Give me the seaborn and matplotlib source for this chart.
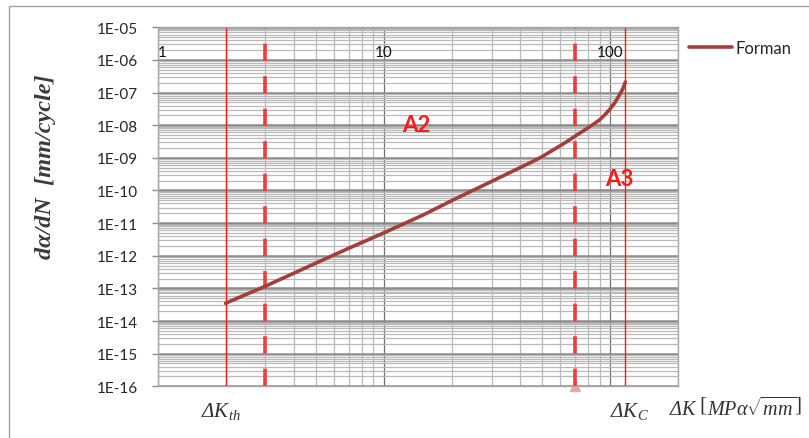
import matplotlib
matplotlib.use("Agg")
import matplotlib.pyplot as plt
import numpy as np
import seaborn as sns
from matplotlib.ticker import LogLocator, NullFormatter
from matplotlib.patches import Rectangle

# Forman curve, values
delta_k = [2, 3, 5, 7, 10, 15, 20, 30, 40, 45, 50, 55, 60, 65, 70, 75, 80, 85, 90,
           95, 100, 105, 110, 113, 115, 117]
dadn = [3.5e-14, 1.17e-13, 5.9e-13, 1.69e-12, 5.0e-12, 1.8e-11, 4.9e-11, 1.9e-10,
        5.0e-10, 7.4e-10, 1.08e-9, 1.6e-9, 2.3e-9, 3.25e-9, 4.6e-9, 6.2e-9, 8.3e-9,
        1.1e-8, 1.45e-8, 2.1e-8, 3.1e-8, 4.8e-8, 8.3e-8, 1.15e-7, 1.5e-7, 2.1e-7]

k_th = 2.0
k_c = 117.0
region_bounds = [3.0, 70.0]

y_tick_vals = [1e-5, 1e-6, 1e-7, 1e-8, 1e-9, 1e-10, 1e-11, 1e-12, 1e-13, 1e-14, 1e-15, 1e-16]
y_tick_labels = ["1E-05", "1E-06", "1E-07", "1E-08", "1E-09", "1E-10",
                 "1E-11", "1E-12", "1E-13", "1E-14", "1E-15", "1E-16"]
x_tick_vals = [1, 10, 100]
x_tick_labels = ["1", "10", "100"]

sns.set_style("white")
plt.rcParams['font.family'] = ['Lato', 'DejaVu Sans']
plt.rcParams['mathtext.fontset'] = 'custom'
plt.rcParams['mathtext.rm'] = 'Liberation Serif'
plt.rcParams['mathtext.it'] = 'Liberation Serif:italic'

fig = plt.figure(figsize=(8.09, 4.39), dpi=100)
ax = fig.add_axes([157.5 / 809, 1 - 387.3 / 439, (678 - 157.5) / 809, (387.3 - 28.3) / 439])
ax.set_xscale('log')
ax.set_yscale('log')
ax.set_xlim(1, 200)
ax.set_ylim(1e-16, 1e-5)

# grid
ax.xaxis.set_minor_locator(LogLocator(base=10, subs=np.arange(2, 10), numticks=50))
ax.yaxis.set_minor_locator(LogLocator(base=10, subs=np.arange(2, 10), numticks=200))
ax.xaxis.set_minor_formatter(NullFormatter())
ax.yaxis.set_minor_formatter(NullFormatter())
ax.grid(which='minor', color='#b9b9b9', lw=0.9)
ax.grid(which='major', axis='y', color='#8a8a8a', lw=1.8)
ax.grid(which='major', axis='x', color='#707070', lw=0.9)
ax.set_axisbelow(True)
for s in ax.spines.values():
    s.set_color('#a6a6a6')
    s.set_linewidth(1.0)

ax.set_yticks(y_tick_vals)
ax.set_yticklabels(y_tick_labels)
ax.set_xticks(x_tick_vals)
ax.set_xticklabels([])
ax.tick_params(axis='y', which='major', length=4, width=1, color='#8c8c8c',
               pad=10, labelsize=11, labelcolor='#262626', left=True)
ax.tick_params(axis='x', which='both', length=0)
ax.tick_params(axis='y', which='minor', length=0)

for v, lab in zip(x_tick_vals, x_tick_labels):
    ax.text(v, 1.05e-6, lab, ha='center' if v > 1 else 'left', va='bottom',
            fontsize=11, color='#111111')

# region boundaries
ax.axvline(k_th, color='#ff1a1a', lw=1.0)
ax.axvline(k_c, color='#ff1a1a', lw=1.0)
for b in region_bounds:
    ax.axvline(b, color='#f03c3c', lw=2.6, dashes=(4.8, 4.2))
ax.plot([region_bounds[1]], [1e-16], marker='^', ms=7, color='#e8a8a8',
        clip_on=False, zorder=1)

sns.lineplot(x=delta_k, y=dadn, ax=ax, color='#a33e3b', lw=2.6, label='Forman',
             sort=True, zorder=5)

ax.text(13.9, 1.08e-8, "A2", color='#ff1a1a', fontsize=16, fontweight='bold',
        ha='center', va='center')
ax.text(110, 2.4e-10, "A3", color='#ff1a1a', fontsize=16, fontweight='bold',
        ha='center', va='center')

ax.get_legend().remove()
fig.legend(*ax.get_legend_handles_labels(), loc='center left',
           bbox_to_anchor=(689 / 809, 1 - 49 / 439), frameon=False,
           borderpad=0, borderaxespad=0, handlelength=2.6, handletextpad=0.2,
           fontsize=12)

ax.set_xlabel("")
ax.set_ylabel("")
fig.text(46 / 809, 1 - 167 / 439, "dα/dN  [mm/cycle]", rotation=90,
         ha='center', va='center', fontsize=17.5, family='Liberation Serif',
         style='italic', fontweight='bold', color='#3a3a3a')
fig.text(221 / 809, 1 - 412 / 439, "ΔK$_{th}$", ha='center', va='center',
         fontsize=15, family='Liberation Serif', style='italic', color='#333333')
fig.text(629 / 809, 1 - 412 / 439, "ΔK$_{C}$", ha='center', va='center',
         fontsize=15, family='Liberation Serif', style='italic', color='#333333')
fig.text(735 / 809, 1 - 409 / 439, r"ΔK $\left[MP\alpha\sqrt{mm}\right]$",
         ha='center', va='center', fontsize=14.5, family='Liberation Serif',
         style='italic', color='#333333')

fig.patches.append(Rectangle((8.5 / 809, -0.1), 1.2, 1 - 6.5 / 439 + 0.1,
                             transform=fig.transFigure, fill=False,
                             edgecolor='#a0a0a0', lw=1.0))

fig.savefig("out.png", dpi=100)
